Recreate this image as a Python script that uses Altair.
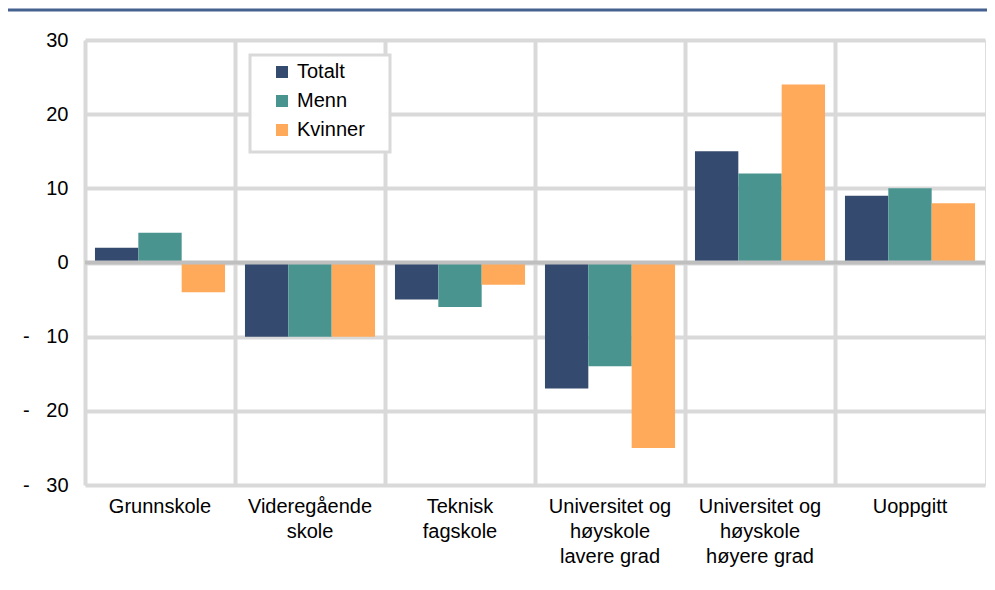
import altair as alt
import pandas as pd

categories = [
    "Grunnskole",
    "Videregående\nskole",
    "Teknisk\nfagskole",
    "Universitet og\nhøyskole\nlavere grad",
    "Universitet og\nhøyskole\nhøyere grad",
    "Uoppgitt",
]
series = ["Totalt", "Menn", "Kvinner"]
totalt = [2, -10, -5, -17, 15, 9]
menn = [4, -10, -6, -14, 12, 10]
kvinner = [-4, -10, -3, -25, 24, 8]
colors = ["#344a6e", "#4a9490", "#ffaa5a"]
y_ticks = [-30, -20, -10, 0, 10, 20, 30]

rows = []
for name, vals in zip(series, [totalt, menn, kvinner]):
    for c, v in zip(categories, vals):
        rows.append({"cat": c, "series": name, "value": v})
df = pd.DataFrame(rows)

FONT = "Liberation Sans"
GRID = "#d9d9d9"
FS = 20

base = alt.Chart(df)

legend_box = alt.Chart(pd.DataFrame({"a": [0]})).mark_rect(
    fill="white", stroke=GRID, strokeWidth=3
).encode(x=alt.value(165), x2=alt.value(305), y=alt.value(15), y2=alt.value(112))

bars = base.mark_bar().encode(
    x=alt.X(
        "cat:N",
        sort=categories,
        scale=alt.Scale(paddingInner=0, paddingOuter=0),
        axis=alt.Axis(
            title=None,
            labelExpr="split(datum.label, '\\n')",
            labelAngle=0,
            grid=True,
            bandPosition=0,
            gridColor=GRID,
            gridWidth=4,
            ticks=False,
            domain=False,
            labelFontSize=FS,
            labelFont=FONT,
            labelColor="black",
            labelPadding=11,
            labelLineHeight=25,
            labelBaseline="top",
        ),
    ),
    xOffset=alt.XOffset(
        "series:N", sort=series, scale=alt.Scale(paddingOuter=0.23, paddingInner=0)
    ),
    y=alt.Y(
        "value:Q",
        scale=alt.Scale(domain=[-30, 30], nice=False),
        axis=alt.Axis(
            values=y_ticks,
            title=None,
            labelExpr="datum.value < 0 ? '-\u00a0\u00a0\u00a0' + abs(datum.value) : datum.label",
            grid=True,
            gridColor=GRID,
            gridWidth=4,
            ticks=False,
            domain=False,
            labelFontSize=FS,
            labelFont=FONT,
            labelColor="black",
            labelPadding=17,
        ),
    ),
    color=alt.Color(
        "series:N",
        sort=series,
        scale=alt.Scale(domain=series, range=colors),
        legend=alt.Legend(
            title=None,
            orient="none",
            legendX=187,
            legendY=22,
            symbolType="square",
            symbolSize=144,
            symbolStrokeWidth=0,
            labelFontSize=FS,
            labelFont=FONT,
            labelColor="black",
            rowPadding=9,
            labelOffset=5,
        ),
    ),
)

zero = alt.Chart(pd.DataFrame({"a": [0]})).mark_rule(
    color="#bfbfbf", strokeWidth=4
).encode(y=alt.datum(0))

top_rule = alt.Chart(pd.DataFrame({"a": [0]})).mark_rule(
    color="#44618f", strokeWidth=3
).encode(x=alt.value(-77), x2=alt.value(910), y=alt.value(-30))

chart = (
    alt.layer(bars, legend_box, zero, top_rule)
    .properties(
        width=900,
        height=445,
        autosize=alt.AutoSizeParams(type="none"),
        padding={"left": 77, "top": 32, "right": 2, "bottom": 95},
    )
    .configure_view(stroke=GRID, strokeWidth=4)
    .configure(background="white")
)

chart.save("out.html", embed_options={"renderer": "svg", "actions": False})
